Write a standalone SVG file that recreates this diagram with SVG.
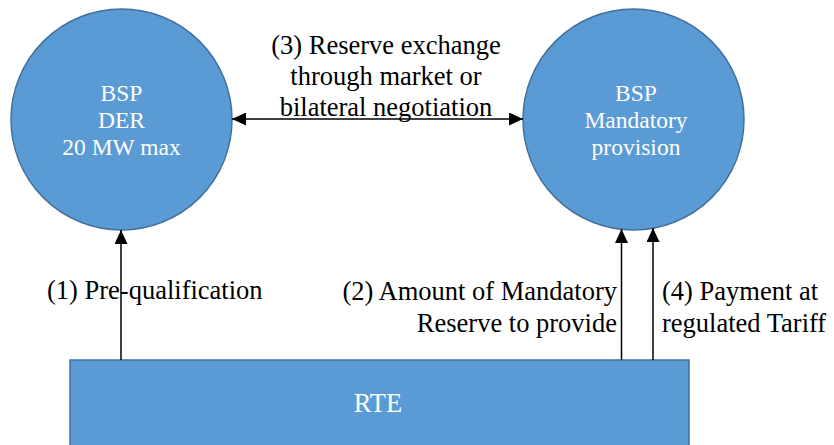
<svg xmlns="http://www.w3.org/2000/svg" width="834" height="445" viewBox="0 0 834 445">
<style>
.node{fill:#5B9BD5;stroke:#41719C;stroke-width:1.5}
.nt{font-family:"Liberation Serif","Times New Roman",serif;font-size:23.5px;fill:#fff;text-anchor:middle}
.lb{font-family:"Liberation Serif","Times New Roman",serif;font-size:26.5px;fill:#000}
.c{stroke:#000;stroke-width:1.5;fill:none}
</style>
<defs>
<marker id="ah" markerWidth="14" markerHeight="13" refX="14" refY="6.5" orient="auto-start-reverse" markerUnits="userSpaceOnUse" viewBox="0 0 14 13">
<path d="M0,0 L14,6.5 L0,13 z" fill="#000"/>
</marker>
</defs>
<rect width="834" height="445" fill="#fff"/>
<g id="bsp-der">
<circle class="node" cx="121.5" cy="119.5" r="110.5"/>
<text class="nt" x="121.5" y="101">BSP</text>
<text class="nt" x="121.5" y="128">DER</text>
<text class="nt" x="121.5" y="155">20 MW max</text>
</g>
<g id="bsp-mandatory">
<circle class="node" cx="633.5" cy="119.5" r="110.5"/>
<text class="nt" x="636" y="101">BSP</text>
<text class="nt" x="636" y="128">Mandatory</text>
<text class="nt" x="636" y="155">provision</text>
</g>
<g id="rte">
<rect class="node" x="70" y="360" width="619" height="100"/>
<text class="nt" x="378" y="412" style="font-size:26.5px">RTE</text>
</g>
<g id="connectors">
<path class="c" d="M232,119 H523" marker-start="url(#ah)" marker-end="url(#ah)"/>
<path class="c" d="M121,360 V230" marker-end="url(#ah)"/>
<path class="c" d="M621.5,360 V229" marker-end="url(#ah)"/>
<path class="c" d="M653,360 V228" marker-end="url(#ah)"/>
</g>
<g id="labels">
<text class="lb" x="386" y="54" text-anchor="middle">(3) Reserve exchange</text>
<text class="lb" x="386" y="85" text-anchor="middle">through market or</text>
<text class="lb" x="386" y="116" text-anchor="middle">bilateral negotiation</text>
<text class="lb" x="47" y="299">(1) Pre-qualification</text>
<text class="lb" x="617" y="300" text-anchor="end">(2) Amount of Mandatory</text>
<text class="lb" x="617" y="332" text-anchor="end">Reserve to provide</text>
<text class="lb" x="662" y="300">(4) Payment at</text>
<text class="lb" x="662" y="332">regulated Tariff</text>
</g>
</svg>
